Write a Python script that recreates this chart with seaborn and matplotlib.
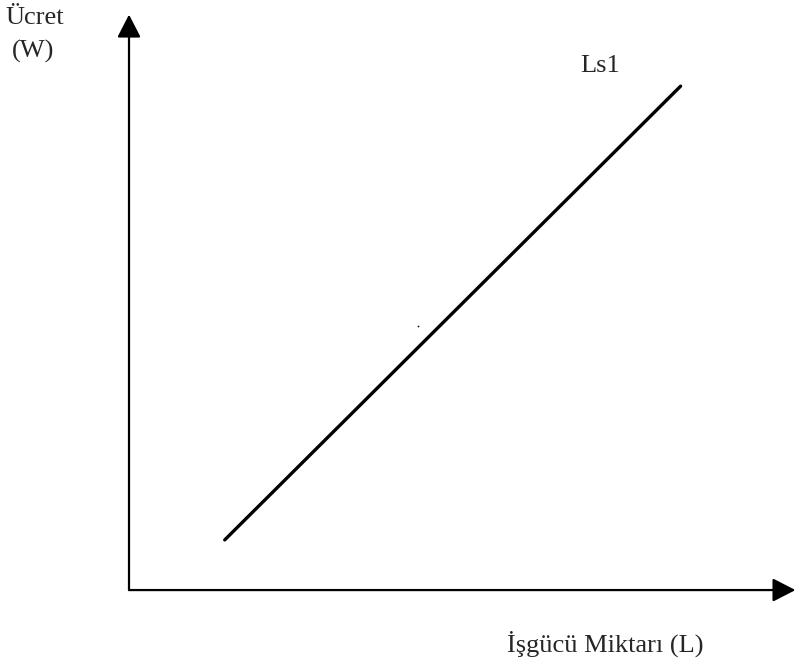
import matplotlib
matplotlib.use("Agg")
import matplotlib.pyplot as plt
import seaborn as sns
import pandas as pd
from matplotlib.patches import FancyArrowPatch

# labour supply curve Ls1 (arbitrary units)
labour = [2.1, 12.1]
wage = [1.1, 11.05]
curve_name = "Ls1"
x_label = "İşgücü Miktarı (L)"
y_label = "Ücret\n (W)"

df = pd.DataFrame({"L": labour, "W": wage})

sns.set_style("white")
plt.rcParams["font.family"] = ["Liberation Serif", "DejaVu Serif"]

fig = plt.figure(figsize=(7.95, 6.58), dpi=100)
ax = fig.add_axes([0, 0, 1, 1])

# 1 unit ~ 45.6 px, origin at the axes corner
ax.set_xlim(-2.83, 14.61)
ax.set_ylim(-1.49, 12.94)

sns.lineplot(data=df, x="L", y="W", color="black", linewidth=2.4, ax=ax)
ax.scatter([6.33], [5.78], s=1.5, color="black", lw=0)

# axes with arrow heads
for end in [(0, 12.62), (14.62, 0)]:
    arr = FancyArrowPatch((0, 0), end, arrowstyle="-|>,head_length=14,head_width=7.2",
                          mutation_scale=1, shrinkA=0, shrinkB=0,
                          color="black", linewidth=1.6)
    ax.add_patch(arr)

ax.text(9.9, 11.37, curve_name, fontsize=19, ha="left", va="baseline")
ax.text(8.3, -1.35, x_label, fontsize=19, ha="left", va="baseline")
ax.text(-2.72, 12.42, "Ücret", fontsize=19, ha="left", va="baseline")
ax.text(-2.57, 11.67, "(W)", fontsize=19, ha="left", va="baseline")

ax.set_xlabel("")
ax.set_ylabel("")
ax.set_xticks([])
ax.set_yticks([])
for s in ax.spines.values():
    s.set_visible(False)

fig.savefig("out.png", dpi=100)
